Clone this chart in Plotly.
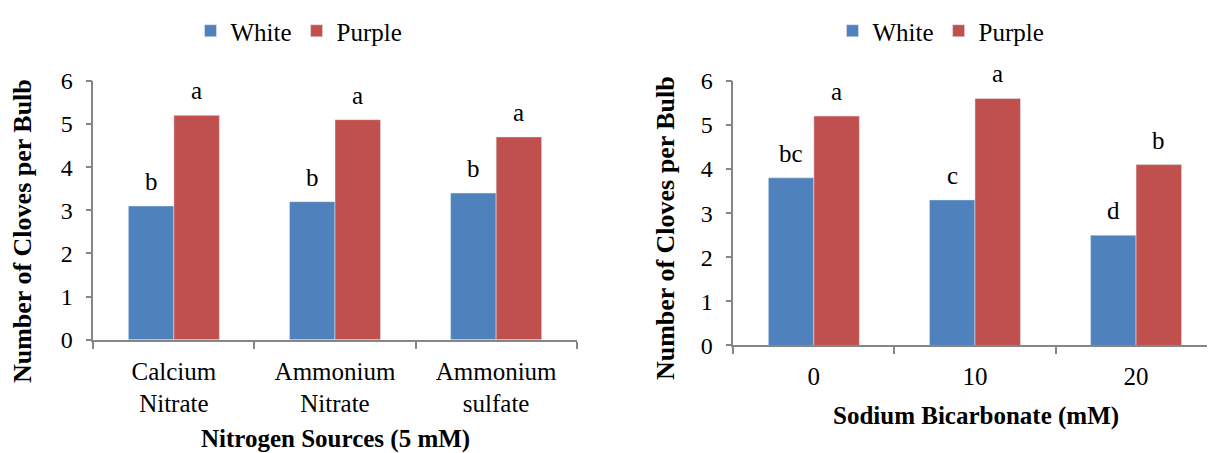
import plotly.graph_objects as go

# ---- data ----
n_categories = ["Calcium<br>Nitrate", "Ammonium<br>Nitrate", "Ammonium<br>sulfate"]
n_white = [3.1, 3.2, 3.4]
n_purple = [5.2, 5.1, 4.7]
n_white_letters = ["b", "b", "b"]
n_purple_letters = ["a", "a", "a"]

s_categories = ["0", "10", "20"]
s_white = [3.8, 3.3, 2.5]
s_purple = [5.2, 5.6, 4.1]
s_white_letters = ["bc", "c", "d"]
s_purple_letters = ["a", "a", "b"]

series_names = ["White", "Purple"]
y_ticks = [0, 1, 2, 3, 4, 5, 6]

# ---- style ----
FONT = "Times New Roman, Liberation Serif, DejaVu Serif, serif"
BLUE = "#4F81BD"
RED = "#C0504D"
AXIS = "#868686"
OFF = 8                      # page body margin
W, H = 1215 - OFF, 453 - OFF


def px(x):
    return (x - OFF) / W


def py(y):
    return 1 - (y - OFF) / H


fig = go.Figure()

fig.add_trace(go.Bar(x=n_categories, y=n_white, name=series_names[0], marker_color=BLUE,
                     xaxis="x", yaxis="y", legend="legend"))
fig.add_trace(go.Bar(x=n_categories, y=n_purple, name=series_names[1], marker_color=RED,
                     xaxis="x", yaxis="y", legend="legend"))
fig.add_trace(go.Bar(x=s_categories, y=s_white, name=series_names[0], marker_color=BLUE,
                     xaxis="x2", yaxis="y2", legend="legend2"))
fig.add_trace(go.Bar(x=s_categories, y=s_purple, name=series_names[1], marker_color=RED,
                     xaxis="x2", yaxis="y2", legend="legend2"))

bargap = 0.435
cat_px = 161.1
half_bar = (1 - bargap) * cat_px / 4.0

annotations = []


def letters(vals, labs, shift, xref, yref):
    for i, (v, t) in enumerate(zip(vals, labs)):
        annotations.append(dict(x=i, y=v, xref=xref, yref=yref, text=t, showarrow=False,
                                xshift=shift, yshift=9, yanchor="bottom",
                                font=dict(family=FONT, size=25, color="black")))


letters(n_white, n_white_letters, -half_bar, "x", "y")
letters(n_purple, n_purple_letters, half_bar, "x", "y")
letters(s_white, s_white_letters, -half_bar, "x2", "y2")
letters(s_purple, s_purple_letters, half_bar, "x2", "y2")

title_font = dict(family=FONT, size=25, color="black")
ytitle_font = dict(family=FONT, size=26, color="black")
annotations += [
    dict(text="<b>Nitrogen Sources (5 mM)</b>", x=px(335), y=py(439), xref="paper", yref="paper",
         showarrow=False, xanchor="center", yanchor="middle", font=title_font),
    dict(text="<b>Sodium Bicarbonate (mM)</b>", x=px(975.5), y=py(416), xref="paper", yref="paper",
         showarrow=False, xanchor="center", yanchor="middle", font=title_font),
    dict(text="<b>Number of Cloves per Bulb</b>", x=px(22), y=py(228), xref="paper", yref="paper",
         showarrow=False, xanchor="center", yanchor="middle", textangle=-90, font=ytitle_font),
    dict(text="<b>Number of Cloves per Bulb</b>", x=px(665), y=py(225), xref="paper", yref="paper",
         showarrow=False, xanchor="center", yanchor="middle", textangle=-90, font=ytitle_font),
]

xcommon = dict(type="category", showline=True, linecolor=AXIS, linewidth=1.5, ticks="outside",
               tickson="boundaries", ticklen=7, tickcolor=AXIS, tickwidth=1.5, showgrid=False,
               zeroline=False, ticklabelstandoff=8,
               tickfont=dict(family=FONT, size=25, color="black"), automargin=False)
ycommon = dict(range=[0, 6], tickvals=y_ticks, showline=True, linecolor=AXIS, linewidth=1.5,
               ticks="outside", ticklen=6, tickcolor=AXIS, tickwidth=1.5, showgrid=False,
               zeroline=False, ticklabelstandoff=8,
               tickfont=dict(family=FONT, size=24, color="black"), automargin=False)

legend_common = dict(orientation="h", xanchor="center", yanchor="middle",
                     font=dict(family=FONT, size=25, color="black"), bgcolor="rgba(0,0,0,0)",
                     itemwidth=30)

fig.update_layout(
    width=W, height=H,
    margin=dict(l=0, r=0, t=0, b=0),
    paper_bgcolor="white", plot_bgcolor="white",
    font=dict(family=FONT, color="black"),
    barmode="group", bargap=bargap, bargroupgap=0,
    xaxis=dict(domain=[px(93.3), px(576.7)], range=[-0.5, 2.5], anchor="y", **xcommon),
    yaxis=dict(domain=[py(338.3), py(75.7)], anchor="x", **ycommon),
    xaxis2=dict(domain=[px(733.3), 1.0], range=[-0.5, 2.49], anchor="y2", **xcommon),
    yaxis2=dict(domain=[py(344), py(75.7)], anchor="x2", **ycommon),
    legend=dict(x=px(299), y=py(25), **legend_common),
    legend2=dict(x=px(941), y=py(25), **legend_common),
    annotations=annotations,
)

fig.write_html("out.html")
